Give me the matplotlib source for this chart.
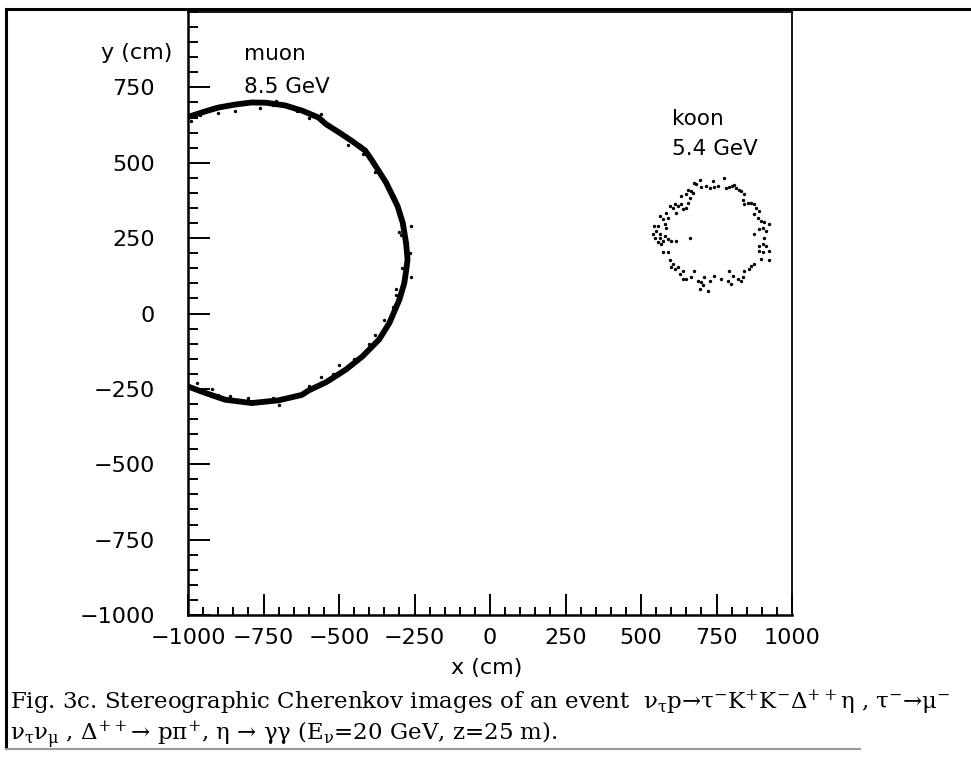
import matplotlib
matplotlib.use("Agg")
import matplotlib.pyplot as plt
from matplotlib.lines import Line2D
from matplotlib.ticker import MultipleLocator

plt.rcParams['mathtext.fontset'] = 'custom'
plt.rcParams['mathtext.rm'] = 'DejaVu Serif'
plt.rcParams['mathtext.it'] = 'DejaVu Serif:italic'

# ---- data (cm) ----
# muon ring: centre line of the dense band
muon_x = [-1000, -944, -900, -844, -789, -740, -678, -620, -568, -543, -499, -457,
          -413, -389, -344, -306, -289, -278, -273, -278, -284, -300, -333,
          -367, -422, -477, -543, -600, -623, -700, -789, -877, -944, -1000]
muon_y = [652, 670, 683, 693, 700, 699, 690, 672, 650, 628, 600, 572,
          540, 505, 434, 356, 301, 235, 179, 140, 100, 46, -31,
          -86, -142, -186, -228, -255, -270, -288, -297, -286, -263, -242]
# stray hits around the muon band
muon_sx = [-844, -760, -720, -640, -600, -520, -470, -420, -380, -330, -300, -262,
           -300, -265, -290, -262, -310, -320, -350, -380, -400, -450, -500, -560,
           -600, -650, -720, -800, -860, -920, -970, -990, -960, -900, -710, -560,
           -430, -318, -296, -310, -392, -520, -700, -900]
muon_sy = [672, 680, 690, 672, 650, 615, 560, 530, 470, 410, 340, 290,
           270, 200, 150, 120, 80, 20, -20, -70, -100, -150, -170, -210,
           -240, -270, -280, -280, -275, -250, -230, 640, 660, 665, 705, 662,
           560, 390, 260, 60, -110, -200, -302, -270]
# kaon ring hits
kaon_x = [694, 682, 699, 716, 727, 738, 743, 754, 776, 782, 793, 800, 809, 815, 826, 831,
          842, 837, 842, 853, 864, 875, 881, 892, 875, 886, 897, 908, 903, 914, 925, 908,
          903, 892, 914, 892, 903, 925, 925, 897, 875, 864, 859, 842, 837, 831, 820, 804,
          793, 787, 798, 765, 743, 727, 710, 699, 705, 694, 721, 688, 677, 666, 650, 639,
          628, 639, 622, 611, 600, 606, 595, 589, 573, 567, 556, 562, 545, 540, 551, 562,
          578, 573, 589, 600, 617, 584, 578, 573, 562, 556, 543, 589, 584, 595, 606, 611,
          617, 622, 633, 639, 650, 633, 650, 655, 666, 672, 661, 655, 677, 661, 875, 892]
kaon_y = [444, 428, 419, 422, 417, 439, 419, 422, 448, 417, 419, 422, 426, 417, 411, 406,
          395, 378, 362, 367, 367, 362, 351, 340, 329, 318, 307, 302, 285, 274, 296, 252,
          230, 225, 225, 208, 203, 208, 177, 181, 164, 159, 148, 142, 120, 109, 115, 126,
          142, 109, 98, 115, 126, 109, 120, 104, 93, 82, 76, 109, 142, 120, 115, 115,
          131, 142, 153, 148, 153, 164, 177, 203, 203, 230, 236, 252, 252, 263, 274, 263,
          258, 241, 247, 241, 241, 285, 296, 312, 323, 291, 291, 318, 334, 356, 351, 362,
          334, 356, 362, 345, 351, 389, 395, 411, 406, 400, 384, 367, 433, 252, 263, 280]

x_ticks = [-1000, -750, -500, -250, 0, 250, 500, 750, 1000]
y_ticks = [-1000, -750, -500, -250, 0, 250, 500, 750]

W, H = 971, 758
fig = plt.figure(figsize=(W / 100, H / 100), dpi=100)
L, R, T, B = 188, 792, 12, 615
ax = fig.add_axes([L / W, (H - B) / H, (R - L) / W, (B - T) / H])
ax.set_xlim(-1000, 1000)
ax.set_ylim(-1000, 1000)

ax.plot(muon_x, muon_y, color='black', lw=4.2, solid_capstyle='round', solid_joinstyle='round')
ax.scatter(muon_sx, muon_sy, s=6, color='black', linewidths=0)
ax.scatter(kaon_x, kaon_y, s=6, color='black', linewidths=0)

ax.set_xticks(x_ticks)
ax.set_yticks(y_ticks)
ax.set_xticklabels([f"{v}".replace('-', '\u2212') for v in x_ticks])
ax.set_yticklabels([f"{v}".replace('-', '\u2212') for v in y_ticks])
ax.xaxis.set_minor_locator(MultipleLocator(50))
ax.yaxis.set_minor_locator(MultipleLocator(50))
ax.tick_params(axis='both', which='both', direction='in', top=False, right=False,
               width=1.4, labelsize=16, color='black')
ax.tick_params(axis='y', which='major', length=16, pad=24)
ax.tick_params(axis='y', which='minor', length=7)
ax.tick_params(axis='x', which='major', length=15, pad=9)
ax.tick_params(axis='x', which='minor', length=6)
for s in ['left', 'bottom']:
    ax.spines[s].set_linewidth(1.8)
for s in ['right', 'top']:
    ax.spines[s].set_linewidth(1.3)

ax.text(-814, 860, "muon", fontsize=15.5, va='center', ha='left')
ax.text(-814, 751, "8.5 GeV", fontsize=15.5, va='center', ha='left')
ax.text(602, 645, "koon", fontsize=15.5, va='center', ha='left')
ax.text(602, 545, "5.4 GeV", fontsize=15.5, va='center', ha='left')

fig.text(172 / W, 1 - 53 / H, "y (cm)", fontsize=16, ha='right', va='center')
fig.text(487 / W, 1 - 668 / H, "x (cm)", fontsize=16, ha='center', va='center')

# outer frame
fig.add_artist(Line2D([6 / W, 6 / W], [1 - 9 / H, 1 - 748 / H], color='black', lw=2.2,
                      transform=fig.transFigure))
fig.add_artist(Line2D([6 / W, 1.0], [1 - 9 / H, 1 - 9 / H], color='black', lw=2.2,
                      transform=fig.transFigure))
fig.add_artist(Line2D([6 / W, 860 / W], [1 - 749 / H, 1 - 749 / H], color='#999999', lw=1.5,
                      transform=fig.transFigure))

cap_font = ['DejaVu Serif']
line1 = (r"Fig. 3c. Stereographic Cherenkov images of an event  "
         r"ν$_{\mathrm{τ}}$p→τ$^{\mathrm{-}}$K$^{\mathrm{+}}$K$^{\mathrm{-}}$Δ$^{\mathrm{++}}$η , "
         r"τ$^{\mathrm{-}}$→μ$^{\mathrm{-}}$")
line2 = (r"ν$_{\mathrm{τ}}$ν$_{\mathrm{μ}}$ , Δ$^{\mathrm{++}}$→ pπ$^{\mathrm{+}}$, η → γγ "
         r"(E$_{\mathrm{ν}}$=20 GeV, z=25 m).")
fig.text(10 / W, 1 - 709 / H, line1, fontsize=16.5, family=cap_font, ha='left', va='baseline')
fig.text(10 / W, 1 - 741 / H, line2, fontsize=16.5, family=cap_font, ha='left', va='baseline')

fig.savefig("out.png", dpi=100)
